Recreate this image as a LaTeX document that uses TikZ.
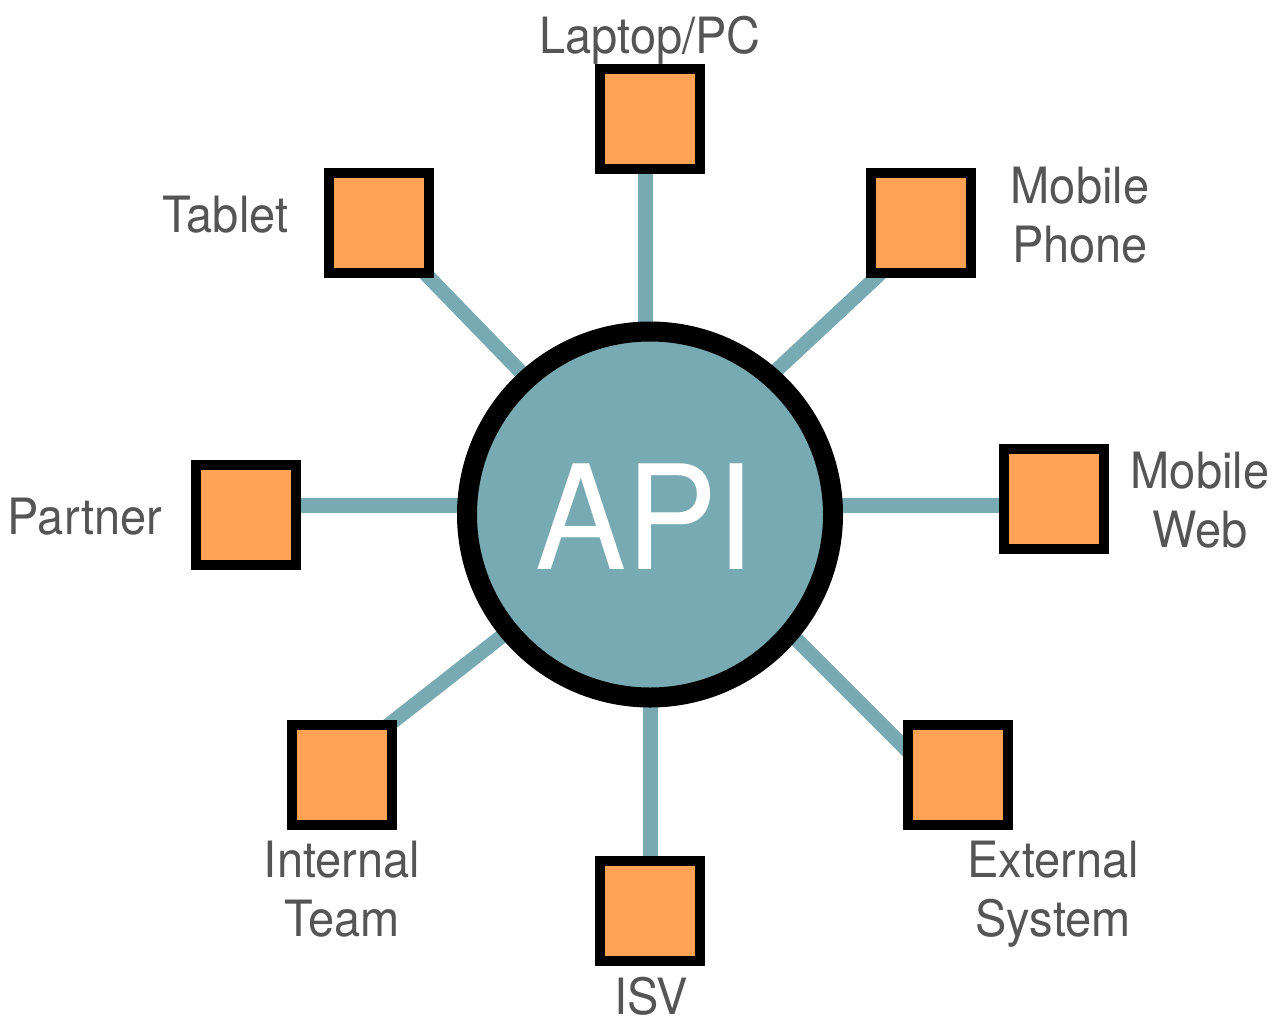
\documentclass[tikz,border=0pt]{standalone}
\usepackage{fontspec}
\setmainfont{TeX Gyre Heros}[FakeStretch=0.94]
\usetikzlibrary{calc}
\definecolor{boxorange}{HTML}{FFA253}
\definecolor{linkteal}{HTML}{78AAB3}
\definecolor{labelgray}{HTML}{555555}
\tikzset{
  client/.style={draw=black, line width=10pt, fill=boxorange, minimum size=100pt, inner sep=0pt, rectangle},
  hub/.style={circle, draw=black, line width=20pt, fill=linkteal, minimum size=366pt, inner sep=0pt,
    text=white, font=\fontsize{145}{150}\selectfont},
  link/.style={draw=linkteal, line width=14.5pt},
  lbl/.style={text=labelgray, font=\fontsize{50}{59}\selectfont, align=center, inner sep=0pt, anchor=base}
}
\begin{document}
\begin{tikzpicture}[x=1pt,y=-1pt]
\useasboundingbox (0,0) rectangle (1284,1031);
% coordinates of the hub and clients
\coordinate (apic) at (650,514.5);
\coordinate (lapc) at (650,119);
\coordinate (tabc) at (379,223);
\coordinate (mphc) at (921,223);
\coordinate (parc) at (246,515);
\coordinate (mwebc) at (1054,499);
\coordinate (intc) at (342,775);
\coordinate (isvc) at (650,911);
\coordinate (extc) at (958,775);
% connectors (behind)
\draw[link] ($(apic)+(-4.5,-114.5)$) -- ($(lapc)+(-4.5,21)$);
\draw[link] ($(apic)+(0.5,105.5)$) -- ($(isvc)+(0.5,-11)$);
\draw[link] ($(apic)+(-100,-9)$) -- ($(parc)+(4,-9.5)$);
\draw[link] ($(apic)+(100,-9)$) -- ($(mwebc)+(-4,6.5)$);
\draw[link] ($(apic)+(-102,-114.5)$) -- ($(tabc)+(23.5,27)$);
\draw[link] ($(apic)+(94.5,-114.5)$) -- ($(mphc)+(-37,47)$);
\draw[link] ($(apic)+(-102,85.5)$) -- ($(intc)+(2,-15)$);
\draw[link] ($(apic)+(90,68.5)$) -- ($(extc)+(-23,3)$);
% hub
\node[hub] (api) at (apic) {};
\node[text=white, font=\fontsize{145}{150}\selectfont, inner sep=0pt, anchor=base] (apitext) at (645,569) {API};
% clients
\node[client] (lap) at (lapc) {};
\node[client] (tab) at (tabc) {};
\node[client] (mph) at (mphc) {};
\node[client] (par) at (parc) {};
\node[client] (mweb) at (mwebc) {};
\node[client] (int) at (intc) {};
\node[client] (isv) at (isvc) {};
\node[client] (ext) at (extc) {};
% labels (multi-line labels anchored at the baseline of their last line)
\node[lbl] (laplbl) at (650,53) {Laptop/PC};
\node[lbl] (tablbl) at (225.5,232) {Tablet};
\node[lbl] (mphlbl) at (1080,262) {Mobile\\Phone};
\node[lbl] (parlbl) at (85,534) {Partner};
\node[lbl] (mweblbl) at (1200,547) {Mobile\\Web};
\node[lbl] (intlbl) at (342,936) {Internal\\Team};
\node[lbl] (isvlbl) at (651,1014) {ISV};
\node[lbl] (extlbl) at (1053,936) {External\\System};
\end{tikzpicture}
\end{document}
